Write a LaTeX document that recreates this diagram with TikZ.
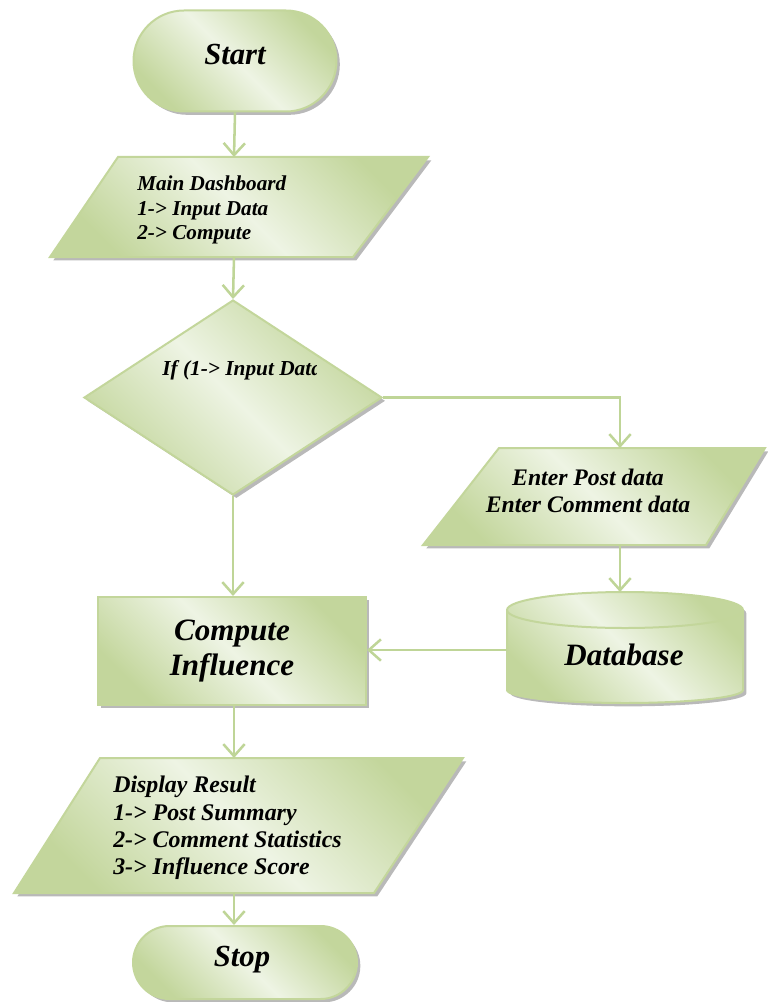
\documentclass[tikz,border=0pt]{standalone}
\usepackage{fontspec}
\setmainfont{Liberation Serif}
\usetikzlibrary{shapes.geometric,shapes.misc,shadows,arrows.meta}
\definecolor{ol}{HTML}{C3D69B}
\definecolor{olln}{HTML}{BFD597}
\definecolor{dk}{HTML}{C3D69C}
\definecolor{lt}{HTML}{EEF4E4}
\pgfdeclarehorizontalshading{oliveband}{100bp}{color(0bp)=(dk); color(25bp)=(dk); color(50bp)=(lt); color(75bp)=(dk); color(100bp)=(dk)}
\tikzset{
  box/.style={draw=ol, line width=1.5pt, shading=oliveband, shading angle=45,
    drop shadow={shadow xshift=2.5pt, shadow yshift=-2.5pt, fill=gray!55, opacity=1}},
  flow/.style={draw=olln, line width=1.9pt, -{Straight Barb[length=9pt,width=16pt]}},
  txt/.style={inner sep=0pt, text=black},
}
\begin{document}
\begin{tikzpicture}[x=0.75pt,y=-0.75pt]
\useasboundingbox (0,0) rectangle (767,1002);

% Start
\node[box, shape=rounded rectangle, minimum width=152.25pt, minimum height=75.75pt, inner sep=0pt] (start) at (235,61) {};
\node[txt, font=\fontsize{23}{26}\selectfont\bfseries\itshape] (starttxt) at (235,55) {Start};

% Main dashboard
\path[box] (118,157) -- (428,157) -- (353,257) -- (50,257) -- cycle;
\coordinate (mainN) at (234,157);
\coordinate (mainS) at (234,257);
\node[txt, anchor=west, align=left, font=\fontsize{15.9}{18.4}\selectfont\bfseries\itshape] (maintxt) at (137,210) {Main Dashboard\\1-> Input Data\\2-> Compute};

% Decision
\node[box, shape=diamond, minimum width=223.5pt, minimum height=146.25pt, inner sep=0pt] (dec) at (233,397.5) {};
\begin{scope}
  \clip (140,345) rectangle (316,395);
  \node[txt, anchor=west, font=\fontsize{16}{19}\selectfont\bfseries\itshape] (dectxt) at (162,370) {If (1-> Input Data};
\end{scope}

% Enter data
\path[box] (499,448) -- (765,448) -- (706,545) -- (423,545) -- cycle;
\coordinate (enterN) at (620,448);
\coordinate (enterS) at (620,545);
\node[txt, align=center, font=\fontsize{17.8}{20.3}\selectfont\bfseries\itshape] (entertxt) at (588,491) {Enter Post data\\Enter Comment data};

% Database
\path[box] (507,610) -- (507,690) arc[start angle=180,end angle=0,x radius=118,y radius=13]
  -- (743,610) arc[start angle=0,end angle=-180,x radius=118,y radius=18] -- cycle;
\draw[draw=ol, line width=1.5pt] (507,610) arc[start angle=180,end angle=0,x radius=118,y radius=18];
\coordinate (dbN) at (620,592);
\coordinate (dbW) at (507,650);
\node[txt, font=\fontsize{23.3}{26}\selectfont\bfseries\itshape] (dbtxt) at (624,655) {Database};

% Compute influence
\node[box, rectangle, minimum width=201pt, minimum height=81pt, align=center, text=black,
  font=\fontsize{23.3}{26.3}\selectfont\bfseries\itshape] (comp) at (232,651) {Compute\\Influence};

% Display result
\path[box] (100,758) -- (463,758) -- (374,893) -- (14,893) -- cycle;
\coordinate (dispN) at (234,758);
\coordinate (dispS) at (234,893);
\node[txt, anchor=west, align=left, font=\fontsize{17.9}{20.6}\selectfont\bfseries\itshape] (disptxt) at (113,828) {Display Result\\1-> Post Summary\\2-> Comment Statistics\\3-> Influence Score};

% Stop
\node[box, shape=rounded rectangle, minimum width=168pt, minimum height=54.75pt, inner sep=0pt] (stop) at (245,962.5) {};
\node[txt, font=\fontsize{23}{26}\selectfont\bfseries\itshape] (stoptxt) at (242,960) {Stop};

% Connectors
\draw[flow] (start.south) -- (mainN);
\draw[flow] (mainS) -- (dec.north);
\draw[flow] (dec.east) -| (enterN);
\draw[flow] (dec.south) -- (dec.south |- comp.north);
\draw[flow] (enterS) -- (dbN);
\draw[flow] (dbW) -- (dbW -| comp.east);
\draw[flow] (comp.south -| dispN) -- (dispN);
\draw[flow] (dispS) -- (dispS |- stop.north);
\end{tikzpicture}
\end{document}
